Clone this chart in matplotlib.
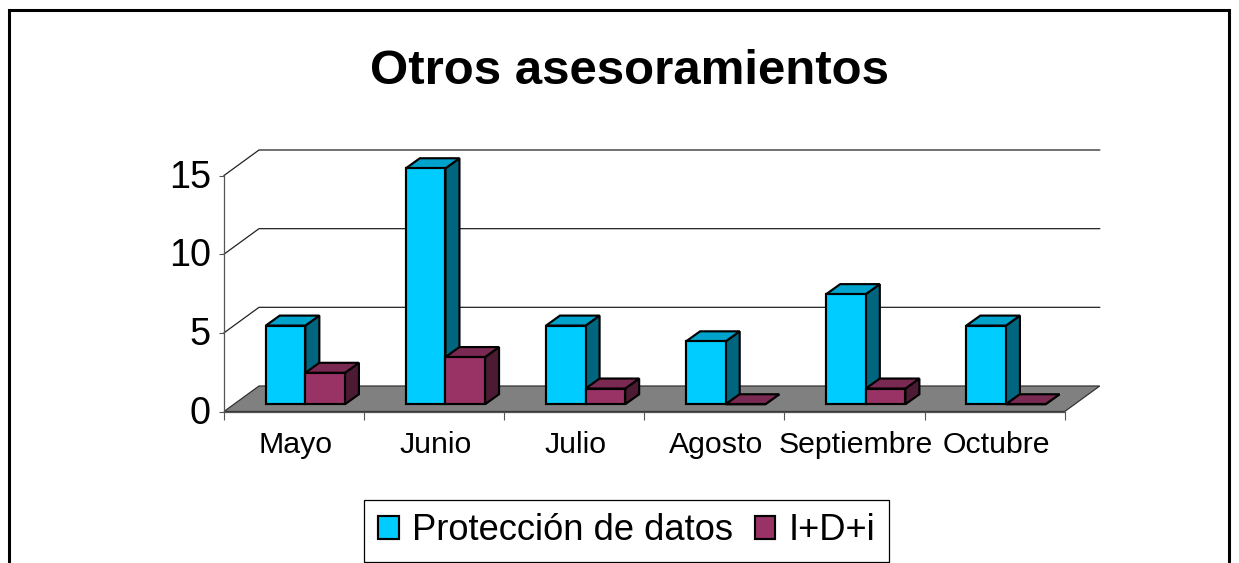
import matplotlib
matplotlib.use("Agg")
import matplotlib.pyplot as plt
from matplotlib.lines import Line2D
from matplotlib.patches import Patch, Polygon
from matplotlib.transforms import ScaledTranslation

plt.rcParams['font.family'] = ['Liberation Sans', 'DejaVu Sans']

W, H = 1239, 563

months = ["Mayo", "Junio", "Julio", "Agosto", "Septiembre", "Octubre"]
proteccion = [5, 15, 5, 4, 7, 5]
idi = [2, 3, 1, 0, 1, 0]
y_ticks = [0, 5, 10, 15]
series_names = ["Protección de datos", "I+D+i"]

# front, side, top colours
cyan = ("#00CCFF", "#006680", "#00A3CC")
maroon = ("#993366", "#4D1A33", "#7A2952")
edge_lw = 1.55

fig = plt.figure(figsize=(W / 100, H / 100), dpi=100)

# axes covers the front plane of the fake 3d box
left, right, top, bottom = 224, 1064.7, 175.5, 411.5
ax = fig.add_axes([left / W, 1 - bottom / H, (right - left) / W, (bottom - top) / H])
ax.set_xlim(0, 6)
ax.set_ylim(0, 15)
ax.patch.set_visible(False)
for s in ax.spines.values():
    s.set_visible(False)

# depth of the box and of the bars, in data units
box_dx, box_dy = 35 / 140.1, 25.5 / 15.73
bar_dx, bar_dy = 14 / 140.1, 10 / 15.73
base_x, base_y = 0.298, 0.46
bar_w = 0.2825

# floor
ax.add_patch(Polygon([(0, 0), (6, 0), (6 + box_dx, box_dy), (box_dx, box_dy)],
                     facecolor="#808080", edgecolor="#333333", lw=0.9, clip_on=False, zorder=1))

# gridlines on side and back wall
for v in y_ticks[1:]:
    ax.plot([0, box_dx, 6 + box_dx], [v, v + box_dy, v + box_dy], color="#222222", lw=0.9,
            clip_on=False, zorder=1)
ax.plot([0, 0], [0, 15], color="#555555", lw=0.9, clip_on=False, zorder=1)
ax.plot([0, 6], [0, 0], color="#555555", lw=0.9, clip_on=False, zorder=1)


def draw_bar(x, val, colors, z):
    y0 = base_y
    y1 = base_y + val
    ax.add_patch(Polygon([(x + bar_w, y0), (x + bar_w + bar_dx, y0 + bar_dy),
                          (x + bar_w + bar_dx, y1 + bar_dy), (x + bar_w, y1)],
                         facecolor=colors[1], edgecolor="black", lw=edge_lw, clip_on=False, zorder=z))
    ax.add_patch(Polygon([(x, y1), (x + bar_dx, y1 + bar_dy),
                          (x + bar_w + bar_dx, y1 + bar_dy), (x + bar_w, y1)],
                         facecolor=colors[2], edgecolor="black", lw=edge_lw, clip_on=False, zorder=z))
    ax.bar(x, val, bar_w, bottom=y0, align="edge", color=colors[0], edgecolor="black",
           lw=edge_lw, clip_on=False, zorder=z)


for i in range(len(months)):
    draw_bar(i + base_x, proteccion[i], cyan, 2 + i * 2)
    draw_bar(i + base_x + bar_w, idi[i], maroon, 3 + i * 2)

ax.set_yticks(y_ticks)
ax.set_yticklabels([str(v) for v in y_ticks], fontsize=27.2)
ax.tick_params(axis="y", length=3.5, width=0.8, color="#555555", pad=6)
# labels sit a little above their ticks
for lab in ax.get_yticklabels():
    lab.set_transform(lab.get_transform() + ScaledTranslation(0, 2 / 100, fig.dpi_scale_trans))

ax.set_xticks(range(7))
ax.set_xticklabels([])
ax.set_xticks([i + 0.51 for i in range(6)], months, minor=True, fontsize=21.8)
ax.tick_params(axis="x", which="major", length=5.5, width=0.8, color="#555555")
ax.tick_params(axis="x", which="minor", length=0, pad=14)

fig.text(629.5 / W, 1 - 71 / H, "Otros asesoramientos", fontsize=35.4, fontweight="bold",
         ha="center", va="center")

handles = [Patch(facecolor=cyan[0], edgecolor="black", lw=edge_lw),
           Patch(facecolor=maroon[0], edgecolor="black", lw=edge_lw)]
leg = fig.legend(handles, series_names, ncol=2, loc="center",
                 bbox_to_anchor=(626.5 / W, 1 - 531 / H),
                 fontsize=26.2, fancybox=False, framealpha=1, edgecolor="black",
                 handlelength=0.57, handleheight=0.57, handletextpad=0.36, columnspacing=0.6,
                 borderpad=0.38, borderaxespad=0)
leg.get_frame().set_linewidth(0.9)

# outer frame, cut by the bottom of the image
fig.add_artist(Line2D([9 / W, 9 / W, 1229 / W, 1229 / W], [0, 1 - 10 / H, 1 - 10 / H, 0],
                      color="black", lw=2.2, solid_joinstyle="miter"))

fig.savefig("out.png", dpi=100)
